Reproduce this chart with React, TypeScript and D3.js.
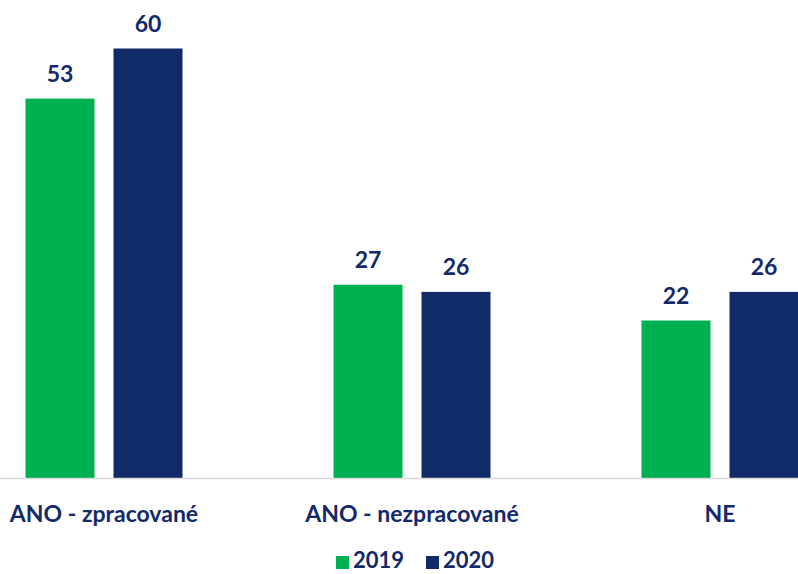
import React from "react";
import * as d3 from "d3";

const categories = ["ANO - zpracované", "ANO - nezpracované", "NE"];
const seriesNames = ["2019", "2020"];
const values2019 = [53, 27, 22];
const values2020 = [60, 26, 26];
const colors = ["#00B050", "#112B69"];
const textColor = "#13296a";
const FONT = "Lato, 'Open Sans', sans-serif";

const W = 798;
const H = 574;

export default function App() {
  const x = d3.scaleBand<string>().domain(categories).range([-50, 874]).padding(0);
  const groupW = 157;
  const xs = d3.scaleBand<string>().domain(seriesNames).range([0, groupW]).paddingInner(0.216).paddingOuter(0);
  const y = d3.scaleLinear().domain([0, 60]).range([478, 48.5]);
  const series = [values2019, values2020];

  return (
    <div style={{ position: "absolute", left: 0, top: 0 }}>
      <svg width={W} height={H} style={{ display: "block", background: "#fff" }}>
        {categories.map((c, i) => {
          const cx = (x(c) as number) + x.bandwidth() / 2;
          const gx = cx - groupW / 2;
          return (
            <g key={c}>
              {seriesNames.map((s, j) => {
                const v = series[j][i];
                const bx = gx + (xs(s) as number);
                return (
                  <g key={s}>
                    <rect x={bx} y={y(v)} width={xs.bandwidth()} height={y(0) - y(v)} fill={colors[j]} />
                    <text
                      x={bx + xs.bandwidth() / 2}
                      y={y(v) - 17}
                      textAnchor="middle"
                      fontFamily={FONT}
                      fontWeight="bold"
                      fontSize={23}
                      fill={textColor}
                    >
                      {v}
                    </text>
                  </g>
                );
              })}
              <text x={cx} y={522} textAnchor="middle" fontFamily={FONT} fontWeight="bold" fontSize={23} fill={textColor}>
                {c}
              </text>
            </g>
          );
        })}
        <line x1={0} x2={W} y1={y(0) + 0.5} y2={y(0) + 0.5} stroke="#d9d9d9" strokeWidth={1.5} />
        {seriesNames.map((s, j) => {
          const lx = [336, 426][j];
          return (
            <g key={s}>
              <rect x={lx} y={556} width={13} height={13} fill={colors[j]} />
              <text x={lx + 17} y={568} fontFamily={FONT} fontWeight="bold" fontSize={22} fill={textColor}>
                {s}
              </text>
            </g>
          );
        })}
      </svg>
    </div>
  );
}
